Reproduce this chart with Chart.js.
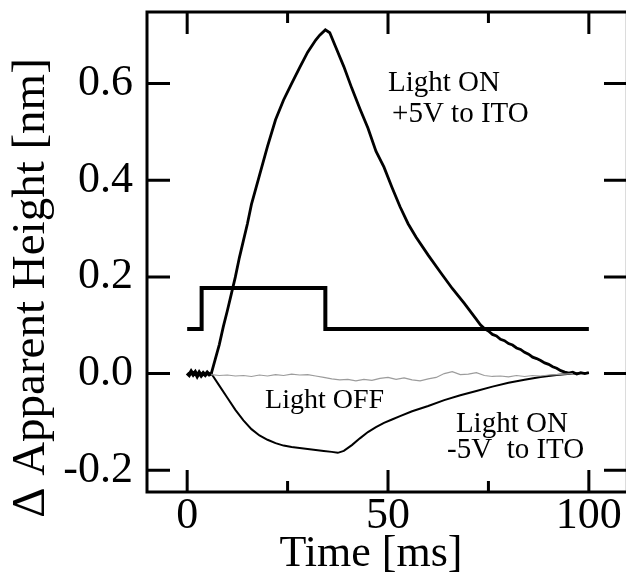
<!DOCTYPE html>
<html><head><meta charset="utf-8">
<script src="https://cdn.jsdelivr.net/npm/chart.js@4"></script>
<style>html,body{margin:0;padding:0;background:#fff;}#wrap{width:626px;height:576px;}</style>
</head><body><div id="wrap"><canvas id="c" width="626" height="576"></canvas></div>
<script>
// ---------- data ----------
const posTime = [0,0.5,1,1.5,2,2.5,3,3.5,4,4.5,5,5.5,6,7,8,9,10,11,12,13,14,15,16,17,18,20,22,24,26,28,30,32,33,34.4,35.5,37,39,41,43,45,47,49,51,53,55,57,60,63,66,69,72,73,74,75,76,77,78,79,80,81,82,83,84,85,86,87,88,89,90,91,92,93,94,95,96,97,98,99,100];
const posHeight = [0.001,-0.003,0.004,-0.002,0.003,-0.005,0.002,-0.004,0.001,-0.003,0.002,-0.002,0.0,0.03,0.06,0.097,0.13,0.165,0.2,0.24,0.275,0.31,0.35,0.38,0.41,0.47,0.525,0.566,0.6,0.633,0.665,0.69,0.7,0.711,0.705,0.675,0.635,0.59,0.548,0.508,0.46,0.427,0.385,0.345,0.31,0.282,0.245,0.21,0.176,0.145,0.112,0.101,0.093,0.088,0.081,0.078,0.071,0.068,0.062,0.059,0.053,0.05,0.044,0.04,0.034,0.031,0.027,0.022,0.019,0.014,0.011,0.006,0.003,0.001,0.003,-0.001,0.002,0.0,0.002];

const negTime = [6,8,10,12,14,16,18,20,22,24,26,28,30,32,34,36,37.5,39,41,43,45,47,49,51,53,56,60,64,68,72,76,80,84,88,92,96,100];
const negHeight = [0,-0.025,-0.05,-0.075,-0.097,-0.115,-0.128,-0.137,-0.144,-0.149,-0.152,-0.154,-0.156,-0.158,-0.16,-0.162,-0.164,-0.16,-0.148,-0.134,-0.121,-0.111,-0.102,-0.095,-0.088,-0.078,-0.067,-0.055,-0.045,-0.036,-0.027,-0.019,-0.013,-0.007,-0.003,0.0,0.001];

const offTime = [6,8,10,12,14,16,18,20,22,24,26,28,30,32,34,36,38,40,42,44,46,48,50,52,54,56,58,60,62,64,66,68,70,72,74,76,78,80,82,84,86,88,90,92,94,96];
const offHeight = [-0.002,-0.004,-0.003,-0.005,-0.004,-0.006,-0.003,-0.005,-0.002,-0.004,-0.001,-0.003,-0.002,-0.005,-0.008,-0.011,-0.013,-0.012,-0.015,-0.012,-0.014,-0.01,-0.008,-0.012,-0.009,-0.013,-0.015,-0.011,-0.008,0.0,0.004,-0.002,-0.001,0.002,-0.004,-0.006,-0.005,-0.007,-0.004,-0.006,-0.004,-0.005,-0.003,-0.002,-0.001,0.0];

const pulseTime = [0,3.6,34.4,100];
const pulseLevel = [0.092,0.177,0.092,0.092];

const xTickValues = [0,25,50,75,100];
const xLabeledTicks = [0,50,100];
const yTickValues = [-0.2,0,0.2,0.4,0.6];

const xTitle = 'Time [ms]';
const yTitle = 'Δ Apparent Height [nm]';

// annotation texts anchored at (time, height) of their left baseline
const noteText = ['Light ON','+5V to ITO','Light OFF','Light ON','-5V  to ITO'];
const noteTime = [50,51,19.4,66.9,64.7];
const noteHeight = [0.585,0.521,-0.072,-0.12,-0.175];
const noteSize = [29,29,28,29,29];

// ---------- chart ----------
const SERIF = "'Liberation Serif','Times New Roman',Times,serif";
const toXY = (xs, ys) => xs.map((x, i) => ({x, y: ys[i]}));

const decor = {
  id: 'decor',
  afterDraw(chart) {
    const {ctx, chartArea: a, scales: {x, y}} = chart;
    ctx.save();
    ctx.lineCap = 'butt';
    // faint right edge (cut off in the reference)
    ctx.strokeStyle = '#dcdcdc';
    ctx.lineWidth = 1;
    ctx.beginPath();
    ctx.moveTo(a.right + 0.5, a.top); ctx.lineTo(a.right + 0.5, a.bottom);
    ctx.stroke();
    // frame: left, top, bottom
    ctx.strokeStyle = '#000';
    ctx.lineWidth = 3;
    ctx.beginPath();
    ctx.moveTo(a.right + 1, a.top); ctx.lineTo(a.left, a.top);
    ctx.lineTo(a.left, a.bottom); ctx.lineTo(a.right + 1, a.bottom);
    ctx.stroke();
    // inward ticks
    ctx.beginPath();
    xTickValues.forEach(v => {
      const px = x.getPixelForValue(v);
      const len = xLabeledTicks.includes(v) ? 22 : 11;
      ctx.moveTo(px, a.bottom); ctx.lineTo(px, a.bottom - len);
      ctx.moveTo(px, a.top); ctx.lineTo(px, a.top + len);
    });
    yTickValues.forEach(v => {
      const py = y.getPixelForValue(v);
      ctx.moveTo(a.left, py); ctx.lineTo(a.left + 23, py);
      ctx.moveTo(a.right + 1, py); ctx.lineTo(a.right - 21, py);
    });
    ctx.stroke();
    // annotations
    ctx.fillStyle = '#000';
    ctx.textBaseline = 'alphabetic';
    ctx.textAlign = 'left';
    noteText.forEach((t, i) => {
      ctx.font = noteSize[i] + 'px ' + SERIF;
      ctx.fillText(t, x.getPixelForValue(noteTime[i]), y.getPixelForValue(noteHeight[i]));
    });
    // axis titles
    ctx.font = '44px ' + SERIF;
    ctx.textAlign = 'center';
    ctx.fillText(xTitle, 371, 566);
    ctx.save();
    ctx.translate(44, 288);
    ctx.rotate(-Math.PI / 2);
    ctx.font = '47px ' + SERIF;
    ctx.fillText(yTitle, 0, 0);
    ctx.restore();
    ctx.restore();
  }
};

new Chart(document.getElementById('c'), {
  type: 'line',
  data: {
    datasets: [
      {label: 'Light OFF', data: toXY(offTime, offHeight), borderColor: '#9c9c9c', borderWidth: 1.2, pointRadius: 0, tension: 0},
      {label: 'Light ON -5V to ITO', data: toXY(negTime, negHeight), borderColor: '#000', borderWidth: 2, pointRadius: 0, tension: 0},
      {label: 'Light ON +5V to ITO', data: toXY(posTime, posHeight), borderColor: '#000', borderWidth: 2.8, pointRadius: 0, tension: 0,
        segment: {borderWidth: c => c.p0.parsed.x < 6 ? 3.8 : 2.8}},
      {label: 'Light pulse', data: toXY(pulseTime, pulseLevel), borderColor: '#000', borderWidth: 4, pointRadius: 0, stepped: 'before'}
    ]
  },
  options: {
    responsive: false,
    animation: false,
    devicePixelRatio: 1,
    layout: {padding: {top: 12, right: 1, left: 0, bottom: 0}},
    plugins: {legend: {display: false}, tooltip: {enabled: false}},
    scales: {
      x: {
        type: 'linear', min: -10, max: 109,
        afterBuildTicks: s => { s.ticks = xTickValues.map(v => ({value: v})); },
        afterFit: s => { s.height = 84; s.paddingLeft = 0; s.paddingRight = 0; },
        grid: {display: false, drawTicks: false},
        border: {display: false},
        ticks: {autoSkip: false, maxRotation: 0, padding: 0, color: '#000',
          font: {family: SERIF, size: 44, lineHeight: 1.1},
          callback: v => xLabeledTicks.includes(v) ? String(v) : ''}
      },
      y: {
        type: 'linear', min: -0.245, max: 0.748,
        afterBuildTicks: s => { s.ticks = yTickValues.map(v => ({value: v})); },
        afterFit: s => { s.width = 147; s.paddingTop = 0; s.paddingBottom = 0; },
        grid: {display: false, drawTicks: false},
        border: {display: false},
        ticks: {padding: 14, color: '#000', font: {family: SERIF, size: 44},
          callback: v => v.toFixed(1)}
      }
    }
  },
  plugins: [decor]
});
</script></body></html>
